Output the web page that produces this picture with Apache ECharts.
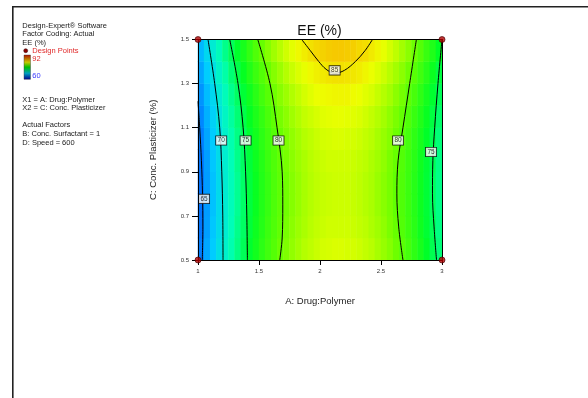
<!DOCTYPE html>
<html><head><meta charset="utf-8">
<script src="https://cdn.jsdelivr.net/npm/echarts@6/dist/echarts.min.js"></script>
<style>html,body{margin:0;padding:0;background:#fff}#c{width:588px;height:398px}</style>
</head><body><div id="c"></div>
<script>
const FONT = '"Liberation Sans", Arial, sans-serif';

// Cell centres of the response grid (A: Drug:Polymer, C: Conc. Plasticizer)
const A_CENTERS = [1.025,1.075,1.125,1.175,1.225,1.275,1.325,1.375,1.425,1.475,1.525,1.575,1.625,1.675,1.725,1.775,1.825,1.875,1.925,1.975,2.025,2.075,2.125,2.175,2.225,2.275,2.325,2.375,2.425,2.475,2.525,2.575,2.625,2.675,2.725,2.775,2.825,2.875,2.925,2.975];
const C_CENTERS = [0.55,0.65,0.75,0.85,0.95,1.05,1.15,1.25,1.35,1.45];

// EE (%) values, one row per C level
const ee_C055 = [64.9,66.5,68.0,69.5,70.9,72.2,73.4,74.6,75.7,76.7,77.7,78.5,79.3,80.1,80.7,81.3,81.8,82.3,82.6,82.9,83.2,83.3,83.4,83.4,83.3,83.2,83.0,82.7,82.4,81.9,81.4,80.9,80.2,79.5,78.7,77.8,76.9,75.9,74.8,73.7];
const ee_C065 = [64.6,66.2,67.8,69.2,70.6,71.9,73.2,74.3,75.4,76.5,77.4,78.3,79.1,79.8,80.5,81.1,81.6,82.0,82.4,82.7,82.9,83.1,83.1,83.1,83.1,82.9,82.7,82.5,82.1,81.7,81.2,80.6,80.0,79.2,78.4,77.6,76.6,75.6,74.6,73.4];
const ee_C075 = [64.5,66.1,67.6,69.1,70.5,71.8,73.0,74.2,75.3,76.3,77.3,78.1,79.0,79.7,80.3,80.9,81.4,81.9,82.3,82.6,82.8,82.9,83.0,83.0,83.0,82.8,82.6,82.3,82.0,81.5,81.0,80.5,79.8,79.1,78.3,77.5,76.5,75.5,74.4,73.3];
const ee_C085 = [64.5,66.1,67.6,69.1,70.5,71.8,73.0,74.2,75.3,76.3,77.3,78.1,79.0,79.7,80.3,80.9,81.4,81.9,82.3,82.6,82.8,82.9,83.0,83.0,83.0,82.8,82.6,82.3,82.0,81.5,81.0,80.5,79.8,79.1,78.3,77.5,76.5,75.5,74.4,73.3];
const ee_C095 = [64.6,66.2,67.8,69.2,70.6,71.9,73.2,74.3,75.4,76.5,77.4,78.3,79.1,79.8,80.5,81.1,81.6,82.0,82.4,82.7,82.9,83.1,83.1,83.1,83.1,82.9,82.7,82.5,82.1,81.7,81.2,80.6,80.0,79.2,78.4,77.6,76.6,75.6,74.6,73.4];
const ee_C105 = [64.9,66.5,68.0,69.5,70.9,72.2,73.4,74.6,75.7,76.7,77.7,78.5,79.3,80.1,80.7,81.3,81.8,82.3,82.6,82.9,83.2,83.3,83.4,83.4,83.3,83.2,83.0,82.7,82.4,81.9,81.4,80.9,80.2,79.5,78.7,77.8,76.9,75.9,74.8,73.7];
const ee_C115 = [65.3,66.9,68.4,69.9,71.3,72.6,73.8,75.0,76.1,77.1,78.0,78.9,79.7,80.5,81.1,81.7,82.2,82.7,83.0,83.3,83.6,83.7,83.8,83.8,83.7,83.6,83.4,83.1,82.7,82.3,81.8,81.2,80.6,79.9,79.1,78.2,77.3,76.3,75.2,74.1];
const ee_C125 = [65.8,67.4,68.9,70.4,71.8,73.1,74.3,75.5,76.6,77.6,78.6,79.4,80.3,81.0,81.6,82.2,82.7,83.2,83.6,83.9,84.1,84.2,84.3,84.3,84.3,84.1,83.9,83.6,83.3,82.8,82.3,81.8,81.1,80.4,79.6,78.8,77.8,76.8,75.7,74.6];
const ee_C135 = [66.5,68.1,69.6,71.1,72.4,73.8,75.0,76.2,77.3,78.3,79.2,80.1,80.9,81.6,82.3,82.9,83.4,83.8,84.2,84.5,84.7,84.9,85.0,85.0,84.9,84.8,84.6,84.3,83.9,83.5,83.0,82.4,81.8,81.1,80.3,79.4,78.5,77.5,76.4,75.2];
const ee_C145 = [67.2,68.9,70.4,71.8,73.2,74.5,75.8,76.9,78.0,79.1,80.0,80.9,81.7,82.4,83.1,83.7,84.2,84.6,85.0,85.3,85.5,85.7,85.8,85.8,85.7,85.6,85.3,85.1,84.7,84.3,83.8,83.2,82.6,81.8,81.1,80.2,79.3,78.2,77.2,76.0];
const EE_ROWS = [ee_C055, ee_C065, ee_C075, ee_C085, ee_C095, ee_C105, ee_C115, ee_C125, ee_C135, ee_C145];

// Contour lines: [A, C]
const contour65  = [[1.0,1.22],[1.014,1.1],[1.028,0.95],[1.037,0.8],[1.04,0.65],[1.035,0.5]];
const contour70  = [[1.082,1.5],[1.137,1.3],[1.178,1.1],[1.195,0.9],[1.203,0.7],[1.205,0.5]];
const contour75L = [[1.26,1.5],[1.328,1.3],[1.37,1.1],[1.39,0.9],[1.40,0.7],[1.405,0.5]];
const contour80L = [[1.49,1.5],[1.59,1.3],[1.648,1.1],[1.69,0.9],[1.695,0.75],[1.69,0.6],[1.67,0.5]];
const contour85  = [[1.85,1.5],[1.92,1.45],[1.99,1.40],[2.05,1.365],[2.12,1.347],[2.2,1.36],[2.29,1.40],[2.37,1.45],[2.43,1.5]];
const contour80R = [[2.79,1.5],[2.735,1.3],[2.68,1.1],[2.64,0.95],[2.63,0.8],[2.645,0.65],[2.68,0.5]];
const contour75R = [[3.0,1.5],[2.967,1.3],[2.94,1.1],[2.925,0.95],[2.922,0.8],[2.935,0.65],[2.955,0.5]];
const CONTOURS = [contour65, contour70, contour75L, contour80L, contour85, contour80R, contour75R];

// Contour labels: [A, C, text]
const contourLabels = [[1.05,0.777,'65'],[1.19,1.042,'70'],[1.39,1.042,'75'],[1.66,1.042,'80'],[2.12,1.36,'85'],[2.64,1.042,'80'],[2.91,0.99,'75']];

// Design points
const designPoints = [[1,0.5],[1,1.5],[3,0.5],[3,1.5]];

const heatData = [];
EE_ROWS.forEach((row, j) => row.forEach((v, i) => heatData.push([i, j, v])));

const G = {left: 198, top: 39.5, width: 244, height: 220.5};
const chart = echarts.init(document.getElementById('c'), null, {renderer: 'canvas'});

const series = [{
  type: 'heatmap', xAxisIndex: 1, yAxisIndex: 1, data: heatData, z: 1,
  emphasis: {disabled: true}, progressive: 0, silent: true
}];
CONTOURS.forEach(c => series.push({
  type: 'line', xAxisIndex: 0, yAxisIndex: 0, data: c, symbol: 'none', smooth: 0.35,
  lineStyle: {color: '#000', width: 1}, z: 5, silent: true, animation: false
}));
series.push({
  type: 'scatter', xAxisIndex: 0, yAxisIndex: 0, data: contourLabels, symbolSize: 0.1,
  itemStyle: {color: 'rgba(0,0,0,0)'}, z: 8, silent: true,
  label: {show: true, position: 'inside', formatter: p => p.data[2], fontSize: 6.5, fontFamily: FONT,
    color: '#000', backgroundColor: '#fff', borderColor: '#000', borderWidth: 0.8, padding: [1, 1.5, 0.5, 1.5]}
});
series.push({
  type: 'scatter', xAxisIndex: 0, yAxisIndex: 0, data: designPoints, symbolSize: 6, clip: false,
  itemStyle: {color: '#b00000', borderColor: '#400000', borderWidth: 0.8}, z: 12, silent: true
});

const txt = (t, x, y, fill) => ({type: 'text', x, y, style: {text: t, fontSize: 7.5, fontFamily: FONT, fill: fill || '#222', verticalAlign: 'middle', align: 'left'}});

chart.setOption({
  animation: false,
  backgroundColor: '#fff',
  grid: [Object.assign({}, G), Object.assign({}, G)],
  xAxis: [{
    type: 'value', gridIndex: 0, min: 1, max: 3, interval: 0.5, z: 10,
    name: 'A: Drug:Polymer', nameLocation: 'middle', nameGap: 36,
    nameTextStyle: {fontSize: 9.5, color: '#222', fontFamily: FONT},
    axisLine: {lineStyle: {color: '#000', width: 1}},
    axisTick: {length: 5, lineStyle: {color: '#000'}},
    axisLabel: {fontSize: 6, color: '#333', margin: 8, fontFamily: FONT},
    splitLine: {show: false}
  }, {
    type: 'category', gridIndex: 1, data: A_CENTERS, position: 'top', z: 10,
    axisLine: {show: true, lineStyle: {color: '#000', width: 1}},
    axisTick: {show: false}, axisLabel: {show: false}, splitLine: {show: false}
  }],
  yAxis: [{
    type: 'value', gridIndex: 0, min: 0.5, max: 1.5, interval: 0.2, z: 10,
    name: 'C: Conc. Plasticizer (%)', nameLocation: 'middle', nameGap: 40,
    nameTextStyle: {fontSize: 9.5, color: '#222', fontFamily: FONT},
    axisLine: {lineStyle: {color: '#000', width: 1}},
    axisTick: {length: 6, lineStyle: {color: '#000'}},
    axisLabel: {fontSize: 6, color: '#333', margin: 9, fontFamily: FONT, formatter: v => v.toFixed(1)},
    splitLine: {show: false}
  }, {
    type: 'category', gridIndex: 1, data: C_CENTERS, position: 'right', z: 10,
    axisLine: {show: true, lineStyle: {color: '#000', width: 1}},
    axisTick: {show: false}, axisLabel: {show: false}, splitLine: {show: false}
  }],
  visualMap: {
    type: 'continuous', min: 60, max: 92, seriesIndex: 0, show: false,
    inRange: {color: ['#0000ff', '#0066ff', '#00ccff', '#00ffb6', '#00ff24', '#66ff00', '#eeff00', '#ff8800', '#ff0000']}
  },
  series,
  graphic: [
    {type: 'line', shape: {x1: 12, y1: 6.8, x2: 588, y2: 6.8}, style: {stroke: '#222', lineWidth: 1.6}},
    {type: 'line', shape: {x1: 12.8, y1: 6, x2: 12.8, y2: 398}, style: {stroke: '#222', lineWidth: 1.6}},
    {type: 'text', x: 319.5, y: 31.5, style: {text: 'EE (%)', fontSize: 14, fontFamily: FONT, fill: '#111', align: 'center', verticalAlign: 'middle'}},
    txt('Design-Expert\u00ae Software', 22.3, 25.7),
    txt('Factor Coding: Actual', 22.3, 33.7),
    txt('EE (%)', 22.3, 42.7),
    {type: 'circle', shape: {cx: 25.7, cy: 50.7, r: 2}, style: {fill: '#8b0000', stroke: '#300', lineWidth: 0.5}},
    txt('Design Points', 32.3, 50.7, '#e02a2a'),
    {type: 'rect', shape: {x: 24, y: 55, width: 6.5, height: 24.3},
      style: {fill: new echarts.graphic.LinearGradient(0, 0, 0, 1, [
        {offset: 0, color: '#b01000'}, {offset: 0.3, color: '#c8c800'}, {offset: 0.5, color: '#00c000'},
        {offset: 0.75, color: '#00a0c0'}, {offset: 1, color: '#000090'}]), stroke: '#333', lineWidth: 0.4}},
    txt('92', 32.3, 58.7, '#e02a2a'),
    txt('60', 32.3, 75.7, '#3a3aff'),
    txt('X1 = A: Drug:Polymer', 22.3, 100.3),
    txt('X2 = C: Conc. Plasticizer', 22.3, 108.3),
    txt('Actual Factors', 22.3, 125.3),
    txt('B: Conc. Surfactant = 1', 22.3, 133.7),
    txt('D: Speed = 600', 22.3, 142.7)
  ]
});
</script></body></html>
